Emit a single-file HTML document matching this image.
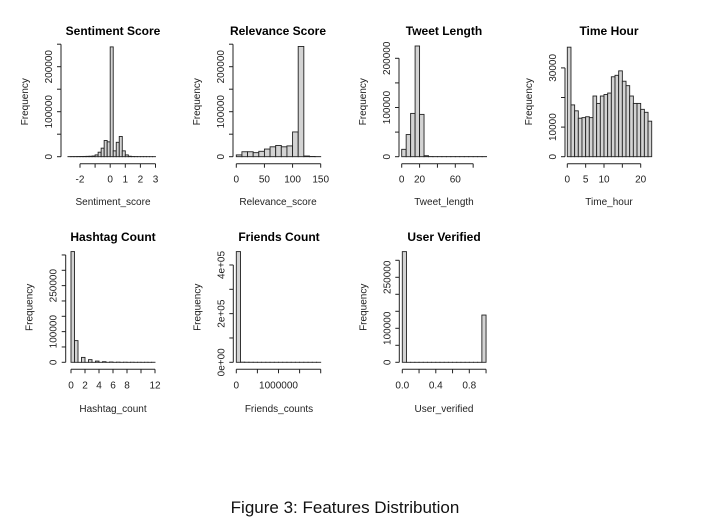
<!DOCTYPE html>
<html><head><meta charset="utf-8">
<style>
body{margin:0;background:#fff;}
svg{display:block;font-family:"Liberation Sans",Arial,sans-serif;}
.tt{font-weight:bold;font-size:12px;text-anchor:middle;}
.tl{font-size:10px;text-anchor:middle;fill:#222;}
.at{font-size:10px;text-anchor:middle;fill:#222;}
</style></head>
<body>
<svg id="fig" width="721" height="526" viewBox="0 0 721 526">
<text x="345" y="513" font-size="17" text-anchor="middle" fill="#111">Figure 3: Features Distribution</text>
</svg>
<script>
// ---- data ----
const sentimentCounts=[200,300,300,400,500,600,800,1000,1500,4000,10000,19000,36000,33000,244000,13000,32000,45000,13000,4000,1000,400,300,200,200,200,150,150,150];
const relevanceCounts=[4000,11000,11000,9000,12000,17000,22000,25000,22000,24000,55000,245000,1500,500,200];
const tweetCounts=[15000,45000,88000,225000,86000,2000,300,200,200,200,200,200,200,200,200,200,200,200,200];
const hourCounts=[37000,17500,15500,13000,13200,13500,13200,20500,18000,20500,21000,21500,27000,27500,29000,25500,24000,20500,18000,18000,16000,15000,12000];
const hashtagCounts=[361000,70700,0,16000,0,8700,0,4000,0,2000,0,1000,0,500,0,300,0,200,0,100,0,100,0,100];
const friendsCounts=[455000,600,300,200,150,100,100,100,100,100,100,100,100,100,100,100,100,100,100,100];
const verifiedCounts=[325500,0,0,0,0,0,0,0,0,0,0,0,0,0,0,0,0,0,0,139000];

const sentimentXTicks=[-2,-1,0,1,2,3];
const sentimentXLabels=["-2","","0","1","2","3"];
const relevanceXTicks=[0,50,100,150];
const relevanceXLabels=["0","50","100","150"];
const tweetXTicks=[0,20,40,60,80];
const tweetXLabels=["0","20","","60",""];
const hourXTicks=[0,5,10,15,20];
const hourXLabels=["0","5","10","","20"];
const hashtagXTicks=[0,2,4,6,8,10,12];
const hashtagXLabels=["0","2","4","6","8","","12"];
const friendsXTicks=[0,500000,1000000,1500000,2000000];
const friendsXLabels=["0","","1000000","",""];
const verifiedXTicks=[0,0.2,0.4,0.6,0.8,1.0];
const verifiedXLabels=["0.0","","0.4","","0.8",""];

const sentimentYTicks=[0,50000,100000,150000,200000,250000];
const sentimentYLabels=["0","","100000","","200000",""];
const relevanceYTicks=[0,50000,100000,150000,200000,250000];
const relevanceYLabels=["0","","100000","","200000",""];
const tweetYTicks=[0,50000,100000,150000,200000];
const tweetYLabels=["0","","100000","","200000"];
const hourYTicks=[0,10000,20000,30000];
const hourYLabels=["0","10000","","30000"];
const hashtagYTicks=[0,50000,100000,150000,200000,250000,300000,350000];
const hashtagYLabels=["0","","100000","","","250000","",""];
const friendsYTicks=[0,100000,200000,300000,400000];
const friendsYLabels=["0e+00","","2e+05","","4e+05"];
const verifiedYTicks=[0,50000,100000,150000,200000,250000,300000];
const verifiedYLabels=["0","","100000","","","250000",""];

// ---- layout ----
const NS="http://www.w3.org/2000/svg";
const svg=document.getElementById('fig');
function mk(tag,attrs,parent){const e=document.createElementNS(NS,tag);for(const k in attrs)e.setAttribute(k,attrs[k]);(parent||svg).appendChild(e);return e;}

const panels=[
 {key:'sentiment',title:'Sentiment Score',xt:'Sentiment_score',counts:sentimentCounts,b0:-2.8,bw:0.2,xt0:-2,xp0:80,xt1:3,xp1:155.5,base:156.7,pxPer:0.00045,yAxisX:61,xTicks:sentimentXTicks,xLabels:sentimentXLabels,yTicks:sentimentYTicks,yLabels:sentimentYLabels,tcx:113,ty:31,xtx:113,xty:205},
 {key:'relevance',title:'Relevance Score',xt:'Relevance_score',counts:relevanceCounts,b0:0,bw:10,xt0:0,xp0:236.3,xt1:150,xp1:320.7,base:156.7,pxPer:0.00045,yAxisX:233,xTicks:relevanceXTicks,xLabels:relevanceXLabels,yTicks:relevanceYTicks,yLabels:relevanceYLabels,tcx:278,ty:31,xtx:278,xty:205},
 {key:'tweet',title:'Tweet Length',xt:'Tweet_length',counts:tweetCounts,b0:0,bw:5,xt0:0,xp0:401.7,xt1:60,xp1:455.3,base:156.7,pxPer:0.000492,yAxisX:399,xTicks:tweetXTicks,xLabels:tweetXLabels,yTicks:tweetYTicks,yLabels:tweetYLabels,tcx:444,ty:31,xtx:444,xty:205},
 {key:'hour',title:'Time Hour',xt:'Time_hour',counts:hourCounts,b0:0,bw:1,xt0:0,xp0:567.3,xt1:20,xp1:640.7,base:156.7,pxPer:0.00296,yAxisX:565,xTicks:hourXTicks,xLabels:hourXLabels,yTicks:hourYTicks,yLabels:hourYLabels,tcx:609,ty:31,xtx:609,xty:205},
 {key:'hashtag',title:'Hashtag Count',xt:'Hashtag_count',counts:hashtagCounts,b0:0,bw:0.5,xt0:0,xp0:71,xt1:12,xp1:155,base:362.3,pxPer:0.0003067,yAxisX:65.7,xTicks:hashtagXTicks,xLabels:hashtagXLabels,yTicks:hashtagYTicks,yLabels:hashtagYLabels,tcx:113,ty:237,xtx:113,xty:412},
 {key:'friends',title:'Friends Count',xt:'Friends_counts',counts:friendsCounts,b0:0,bw:100000,xt0:0,xp0:236.3,xt1:2000000,xp1:320.7,base:362.3,pxPer:0.0002433,yAxisX:233.3,xTicks:friendsXTicks,xLabels:friendsXLabels,yTicks:friendsYTicks,yLabels:friendsYLabels,tcx:279,ty:237,xtx:279,xty:412},
 {key:'verified',title:'User Verified',xt:'User_verified',counts:verifiedCounts,b0:0,bw:0.05,xt0:0,xp0:402.3,xt1:0.8,xp1:469.3,base:362.3,pxPer:0.00034,yAxisX:399.3,xTicks:verifiedXTicks,xLabels:verifiedXLabels,yTicks:verifiedYTicks,yLabels:verifiedYLabels,tcx:444,ty:237,xtx:444,xty:412}
];

panels.forEach(p=>{
  const g=mk('g',{});
  
  
  const xs=v=>p.xp0+(v-p.xt0)*(p.xp1-p.xp0)/(p.xt1-p.xt0);
  const ys=v=>p.base-v*p.pxPer;
  // title
  const t=mk('text',{x:p.tcx,y:p.ty+4,class:'tt'},g); t.textContent=p.title;
  
  
  // bars
  p.counts.forEach((c,i)=>{
    const x0=xs(p.b0+i*p.bw), x1=xs(p.b0+(i+1)*p.bw);
    const y=ys(c);
    const r=mk('rect',{x:x0,y:Math.min(y,p.base),width:x1-x0,height:Math.max(Math.abs(p.base-y),0.01),fill:'#d3d3d3',stroke:'#222','stroke-width':0.9},g);
    
    
  });
  // x axis
  const xt=p.xTicks, axY=p.base+7;
  const xa=mk('g',{},g);
  
  
  mk('line',{x1:xs(xt[0]),x2:xs(xt[xt.length-1]),y1:axY,y2:axY,stroke:'#222','stroke-width':1},xa);
  xt.forEach((v,i)=>{
    mk('line',{x1:xs(v),x2:xs(v),y1:axY,y2:axY+4,stroke:'#222','stroke-width':1},xa);
    if(p.xLabels[i]){const l=mk('text',{x:xs(v),y:axY+19,class:'tl'},xa);l.textContent=p.xLabels[i];
      
      }
  });
  const xtl=mk('text',{x:p.xtx,y:p.xty,class:'at'},g); xtl.textContent=p.xt;
  
  
  // y axis
  const yt=p.yTicks, ax=p.yAxisX;
  const ya=mk('g',{},g);
  
  
  mk('line',{x1:ax,x2:ax,y1:ys(yt[0]),y2:ys(yt[yt.length-1]),stroke:'#222','stroke-width':1},ya);
  yt.forEach((v,i)=>{
    mk('line',{x1:ax,x2:ax-4,y1:ys(v),y2:ys(v),stroke:'#222','stroke-width':1},ya);
    if(p.yLabels[i]){const lx=ax-9,ly=ys(v);const l=mk('text',{x:lx,y:ly,class:'tl',transform:`rotate(-90 ${lx} ${ly})`},ya);l.textContent=p.yLabels[i];
      
      }
  });
  const fx=ax-33, fy=p.base-55;
  const yl=mk('text',{x:fx,y:fy,class:'at',transform:`rotate(-90 ${fx} ${fy})`},g); yl.textContent='Frequency';
  
  
});
</script>
</body></html>
